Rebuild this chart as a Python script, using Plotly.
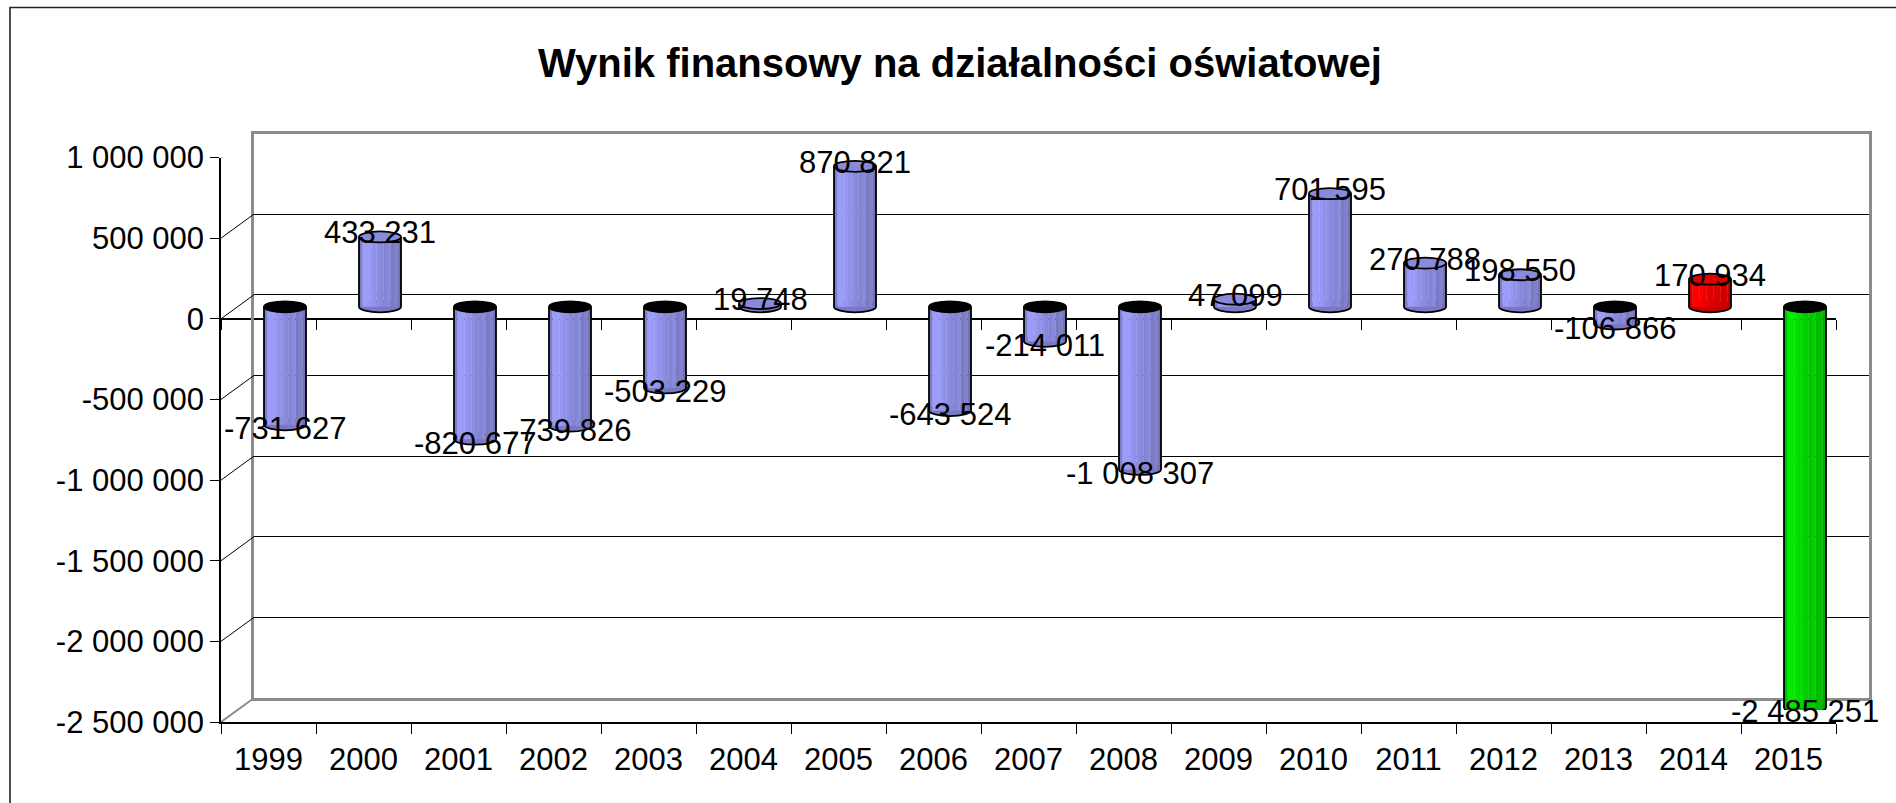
import plotly.graph_objects as go

# ---------------- data ----------------
years = ["1999", "2000", "2001", "2002", "2003", "2004", "2005", "2006", "2007",
         "2008", "2009", "2010", "2011", "2012", "2013", "2014", "2015"]
values = [-731627, 433231, -820677, -739826, -503229, 19748, 870821, -643524,
          -214011, -1008307, 47099, 701595, 270788, 198550, -106866, 170934,
          -2485251]
y_tick_values = [1000000, 500000, 0, -500000, -1000000, -1500000, -2000000, -2500000]
title_text = "Wynik finansowy na działalności oświatowej"

# ---------------- style / geometry ----------------
W, H = 1896, 803
FONT = "Liberation Sans, Arial, Helvetica, sans-serif"
Y_MIN, Y_MAX = -2500000, 1000000
PLOT_L, PLOT_R = 221, 1836
PLOT_T, PLOT_B = 157.5, 722
DEPTH_X, DEPTH_Y = 33, 24
BAR_PX = 42
CAP_H = 11
GRAY = "#8c8c8c"

DEFAULT_RGB = (142, 142, 228)
SPECIAL_RGB = {"2014": (232, 0, 0), "2015": (0, 214, 0)}
PROFILE = [0.88, 1.1, 1.09, 1.06, 1.02, 0.99, 0.96, 0.93, 0.97, 0.86, 0.9, 0.8]


def fmt(v):
    return f"{v:,}".replace(",", " ")


def shade(rgb, f):
    return "rgb(%d,%d,%d)" % tuple(min(255, int(round(c * f))) for c in rgb)


def xdom(shift):
    return [(PLOT_L + shift) / W, (PLOT_R + shift) / W]


def ydom(shift):
    return [1 - (PLOT_B - shift) / H, 1 - (PLOT_T - shift) / H]


ncat = len(years)
cat_px = (PLOT_R - PLOT_L) / ncat
bw = BAR_PX / cat_px
base_rgb = [SPECIAL_RGB.get(y, DEFAULT_RGB) for y in years]
xr = [-0.5, ncat - 0.5]

fig = go.Figure()

# invisible traces registering the front / back-wall / zero-line axes
for xa, ya in [("x", "y"), ("x2", "y2"), ("x4", "y")]:
    fig.add_trace(go.Scatter(x=years, y=values, xaxis=xa, yaxis=ya, mode="markers",
                             marker=dict(opacity=0), hoverinfo="skip", showlegend=False))

# cylinder bodies (shaded vertical strips) on the mid-depth plane
n = len(PROFILE)
sw = bw / n
for k, f in enumerate(PROFILE):
    fig.add_trace(go.Bar(
        x=years, y=values, xaxis="x3", yaxis="y3",
        width=sw * 1.08, offset=-bw / 2 + k * sw,
        marker=dict(color=[shade(c, f) for c in base_rgb], line=dict(width=0)),
        hoverinfo="skip", showlegend=False))

shapes = []
# bottom ellipses of cylinders (beneath bodies)
for i, (v, c) in enumerate(zip(values, base_rgb)):
    shapes.append(dict(type="circle", xref="x3", yref="y3",
                       xsizemode="pixel", ysizemode="pixel",
                       xanchor=i, yanchor=(0 if v > 0 else v),
                       x0=-BAR_PX / 2, x1=BAR_PX / 2, y0=-CAP_H / 2, y1=CAP_H / 2,
                       fillcolor=shade(c, 0.85), line=dict(color="black", width=1.8),
                       layer="between"))
# side outlines
for i, v in enumerate(values):
    for dx in (-BAR_PX / 2, BAR_PX / 2):
        shapes.append(dict(type="line", xref="x3", yref="y3", xsizemode="pixel",
                           xanchor=i, x0=dx, x1=dx, y0=0, y1=v,
                           line=dict(color="black", width=1.8)))
# top caps
for i, (v, c) in enumerate(zip(values, base_rgb)):
    shapes.append(dict(type="circle", xref="x3", yref="y3",
                       xsizemode="pixel", ysizemode="pixel",
                       xanchor=i, yanchor=(v if v > 0 else 0),
                       x0=-BAR_PX / 2, x1=BAR_PX / 2, y0=-CAP_H / 2, y1=CAP_H / 2,
                       fillcolor=(shade(c, 0.97) if v > 0 else "black"),
                       line=dict(color="black", width=1.8)))
# left side-wall diagonals at each value tick
for tv in y_tick_values:
    edge = tv in (Y_MAX, Y_MIN)
    shapes.append(dict(type="line", xref="x", yref="y", xsizemode="pixel", ysizemode="pixel",
                       xanchor=xr[0], yanchor=tv, x0=0, x1=DEPTH_X, y0=0, y1=DEPTH_Y,
                       line=dict(color=GRAY if edge else "black", width=2 if edge else 1)))
# right floor diagonal
shapes.append(dict(type="line", xref="x", yref="y", xsizemode="pixel", ysizemode="pixel",
                   xanchor=xr[1], yanchor=Y_MIN, x0=0, x1=DEPTH_X, y0=0, y1=DEPTH_Y,
                   line=dict(color=GRAY, width=2)))
# outer chart frame
shapes.append(dict(type="rect", xref="paper", yref="paper",
                   x0=10 / W, x1=1.02, y0=-0.02, y1=1 - 7.5 / H,
                   line=dict(color="#222222", width=1.6)))

# data labels
annotations = []
for i, v in enumerate(values):
    annotations.append(dict(x=i, y=v, xref="x3", yref="y3", text=fmt(v), showarrow=False,
                            xanchor="center", yanchor="middle", yshift=(4 if v > 0 else -4),
                            font=dict(family=FONT, size=31, color="black")))

zero_pos = ydom(0)[0] + (0 - Y_MIN) / (Y_MAX - Y_MIN) * (ydom(0)[1] - ydom(0)[0])

cat_common = dict(type="category", categoryorder="array", categoryarray=years, range=xr,
                  automargin=False)

fig.update_layout(
    template="none",
    width=W, height=H, autosize=False,
    margin=dict(l=0, r=0, t=0, b=0, pad=0, autoexpand=False),
    paper_bgcolor="white", plot_bgcolor="rgba(0,0,0,0)",
    font=dict(family=FONT, size=31, color="black"),
    showlegend=False, hovermode=False, barmode="overlay",
    title=dict(text=title_text, x=960 / W, xanchor="center", y=1 - 63 / H, yanchor="middle",
               font=dict(family=FONT, size=40, color="black", weight="bold")),
    xaxis=dict(**cat_common, domain=xdom(0), anchor="y", showline=True, linecolor="black",
               linewidth=1.5, ticks="outside", ticklen=10, tickcolor="black", tickwidth=1,
               tickson="boundaries", showgrid=False, zeroline=False, tickfont=dict(size=31),
               ticklabelstandoff=9),
    yaxis=dict(domain=ydom(0), anchor="x", range=[Y_MIN, Y_MAX], tickvals=y_tick_values,
               ticktext=[fmt(v) for v in y_tick_values], showline=True, linecolor="black",
               linewidth=1.5, ticks="outside", ticklen=9, tickcolor="black", tickwidth=1,
               showgrid=False, zeroline=False, tickfont=dict(size=31), automargin=False),
    xaxis2=dict(**cat_common, domain=xdom(DEPTH_X), anchor="y2", showline=True, linecolor=GRAY,
                linewidth=2.5, mirror=True, ticks="", showticklabels=False, showgrid=False,
                zeroline=False),
    yaxis2=dict(domain=ydom(DEPTH_Y), anchor="x2", range=[Y_MIN, Y_MAX], tickvals=y_tick_values,
                showgrid=True, gridcolor="black", gridwidth=1, showline=True, linecolor=GRAY,
                linewidth=2.5, mirror=True, ticks="", showticklabels=False, zeroline=False,
                automargin=False),
    xaxis3=dict(**cat_common, domain=xdom(DEPTH_X / 2), anchor="y3", visible=False),
    yaxis3=dict(domain=ydom(DEPTH_Y / 2), anchor="x3", range=[Y_MIN, Y_MAX], visible=False,
                automargin=False),
    xaxis4=dict(**cat_common, overlaying="x", anchor="free", position=zero_pos, side="bottom",
                showline=True, linecolor="black", linewidth=1.5, ticks="outside", ticklen=10,
                tickcolor="black", tickwidth=1, tickson="boundaries", showticklabels=False,
                showgrid=False, zeroline=False),
    shapes=shapes,
    annotations=annotations,
)

fig.write_html("out.html", config={"displayModeBar": False},
               post_script="document.body.style.margin='0';document.body.style.overflow='hidden';")
